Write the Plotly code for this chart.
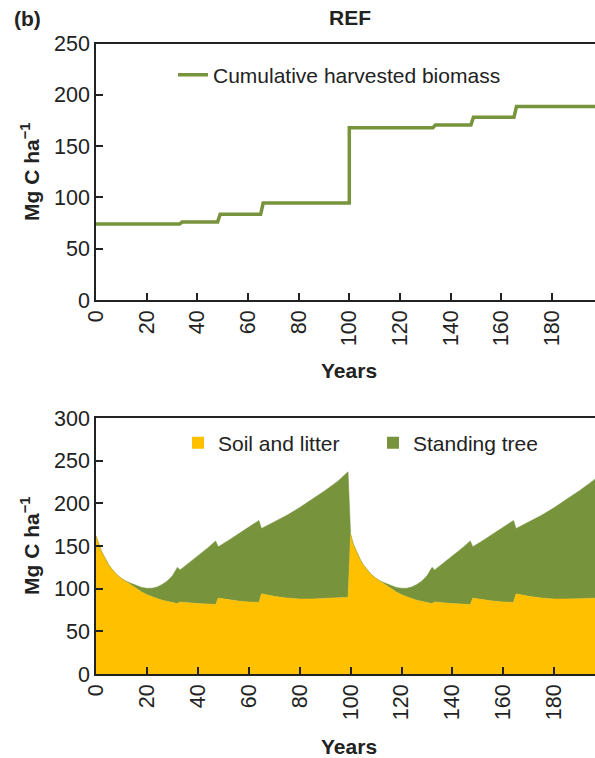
import plotly.graph_objects as go

# ---------------- data ----------------
harvest_years = [0, 33, 34, 48, 49, 65, 66, 100, 100, 133, 134, 148, 149, 165, 166, 200]
harvest_biomass = [74, 74, 76, 76, 83.5, 83.5, 94.5, 94.5, 168, 168, 170.5, 170.5, 178, 178, 188.5, 188.5]

area_years = [0, 1, 2, 3, 4, 5, 6, 8, 10, 11, 12, 14, 16, 18, 20, 22, 24, 26, 28, 30, 32, 33,
              36, 40, 44, 47, 48, 52, 56, 60, 64, 65, 70, 75, 80, 85, 90, 95, 99,
              100, 101, 102, 103, 104, 105, 106, 108, 110, 111, 112, 114, 116, 118, 120, 122,
              124, 126, 128, 130, 132, 133, 136, 140, 144, 147, 148, 152, 156, 160, 164, 165,
              170, 175, 180, 185, 190, 195, 197, 199]
soil_litter = [162, 152, 145, 139, 133, 128, 124, 117, 112, 110, 107, 103, 99.5, 96, 93, 90.5,
               88.5, 86.5, 85, 84, 82.5, 84.5, 83.5, 82.5, 82, 81.5, 89, 87, 85.5, 84.5, 84, 94,
               91, 89, 88, 88, 88.5, 89, 90,
               164, 153, 146, 139, 133, 128, 124, 117, 112, 110, 107, 103, 99.5, 96, 93, 90.5,
               88.5, 86.5, 85, 84, 82.5, 84.5, 83.5, 82.5, 82, 81.5, 89, 87, 85.5, 84.5, 84, 94,
               91, 89, 88, 88, 88.5, 89, 89, 89]
total_stock = [162, 152, 145, 139, 133, 128, 124, 117, 112, 110, 108.5, 106, 103.5, 101.5, 100.5,
               100.5, 102, 105, 109, 115, 125, 122, 129, 138, 148, 156, 149, 156.5, 164, 172, 180,
               170.5, 178, 186, 195, 204.5, 215, 226, 237,
               164, 153, 146, 139, 133, 128, 124, 117, 112, 110, 108.5, 106, 103.5, 101.5, 100.5,
               100.5, 102, 105, 109, 115, 125, 122, 129, 138, 148, 156, 149, 156.5, 164, 172, 180,
               170.5, 178, 186, 195, 204.5, 215, 226, 231, 236]

x_ticks = [0, 20, 40, 60, 80, 100, 120, 140, 160, 180]

GREEN = "#77933C"
YELLOW = "#FFC000"
FONT = "Liberation Sans, Arial, Helvetica, sans-serif"
W, H = 595, 758

fig = go.Figure()

fig.add_trace(go.Scatter(x=harvest_years, y=harvest_biomass, mode="lines",
                         line=dict(color=GREEN, width=3.5),
                         name="Cumulative harvested biomass",
                         xaxis="x", yaxis="y", legend="legend"))

fig.add_trace(go.Scatter(x=area_years, y=soil_litter, mode="lines", fill="tozeroy",
                         fillcolor=YELLOW, line=dict(color=YELLOW, width=0.5),
                         showlegend=False, xaxis="x2", yaxis="y2"))
fig.add_trace(go.Scatter(x=area_years, y=total_stock, mode="lines", fill="tonexty",
                         fillcolor=GREEN, line=dict(color=GREEN, width=0.5),
                         showlegend=False, xaxis="x2", yaxis="y2"))
# legend entries (square swatches)
fig.add_trace(go.Scatter(x=[None], y=[None], mode="markers", name="Soil and litter",
                         marker=dict(symbol="square", size=12, color=YELLOW),
                         xaxis="x2", yaxis="y2", legend="legend2"))
fig.add_trace(go.Scatter(x=[None], y=[None], mode="markers", name="Standing tree",
                         marker=dict(symbol="square", size=12, color=GREEN),
                         xaxis="x2", yaxis="y2", legend="legend2"))

axis_common = dict(showline=True, linecolor="#222", linewidth=1.5, ticks="inside",
                   ticklen=7, tickwidth=1.5, tickcolor="#222", showgrid=False,
                   zeroline=False, automargin=False,
                   tickfont=dict(family=FONT, size=21.5, color="#222"))

top_dom = [1 - 300 / H, 1 - 43.5 / H]
bot_dom = [1 - 674 / H, 1 - 418 / H]
x_dom = [96 / W, 1]

fig.update_layout(
    width=W, height=H,
    margin=dict(l=0, r=0, t=0, b=0, autoexpand=False),
    paper_bgcolor="white", plot_bgcolor="white",
    font=dict(family=FONT, size=21, color="#222"),
    xaxis=dict(domain=x_dom, range=[0, 197], tickvals=x_ticks, tickangle=-90,
               mirror=True, anchor="y", **axis_common),
    yaxis=dict(domain=top_dom, range=[0, 250], tickvals=[0, 50, 100, 150, 200, 250],
               anchor="x", **axis_common),
    xaxis2=dict(domain=x_dom, range=[0, 196], tickvals=x_ticks, tickangle=-90,
                mirror=True, anchor="y2", **axis_common),
    yaxis2=dict(domain=bot_dom, range=[0, 300], tickvals=[0, 50, 100, 150, 200, 250, 300],
                anchor="x2", **axis_common),
    legend=dict(x=173 / W, xanchor="left", y=1 - 75 / H, yanchor="middle",
                orientation="h", bgcolor="rgba(0,0,0,0)",
                font=dict(family=FONT, size=21, color="#222")),
    legend2=dict(x=178 / W, xanchor="left", y=1 - 443 / H, yanchor="middle",
                 orientation="h", bgcolor="rgba(0,0,0,0)", entrywidth=150,
                 entrywidthmode="pixels", tracegroupgap=0,
                 font=dict(family=FONT, size=21, color="#222")),
    showlegend=True,
)

ann = dict(xref="paper", yref="paper", showarrow=False, font=dict(family=FONT, size=21, color="#222"))
fig.add_annotation(text="<b>(b)</b>", x=27 / W, y=1 - 18 / H, xanchor="center", yanchor="middle", **ann)
fig.add_annotation(text="<b>REF</b>", x=350 / W, y=1 - 17 / H, xanchor="center", yanchor="middle", **ann)
fig.add_annotation(text="<b>Years</b>", x=349 / W, y=1 - 370 / H, xanchor="center", yanchor="middle", **ann)
fig.add_annotation(text="<b>Years</b>", x=349 / W, y=1 - 746 / H, xanchor="center", yanchor="middle", **ann)
fig.add_annotation(text="<b>Mg C ha<sup>−1</sup></b>", x=30 / W, y=1 - 172 / H, textangle=-90,
                   xanchor="center", yanchor="middle", **ann)
fig.add_annotation(text="<b>Mg C ha<sup>−1</sup></b>", x=30 / W, y=1 - 546 / H, textangle=-90,
                   xanchor="center", yanchor="middle", **ann)

fig.write_html("out.html", config={"displayModeBar": False},
               post_script="document.body.style.margin='0';document.body.style.padding='0';")
